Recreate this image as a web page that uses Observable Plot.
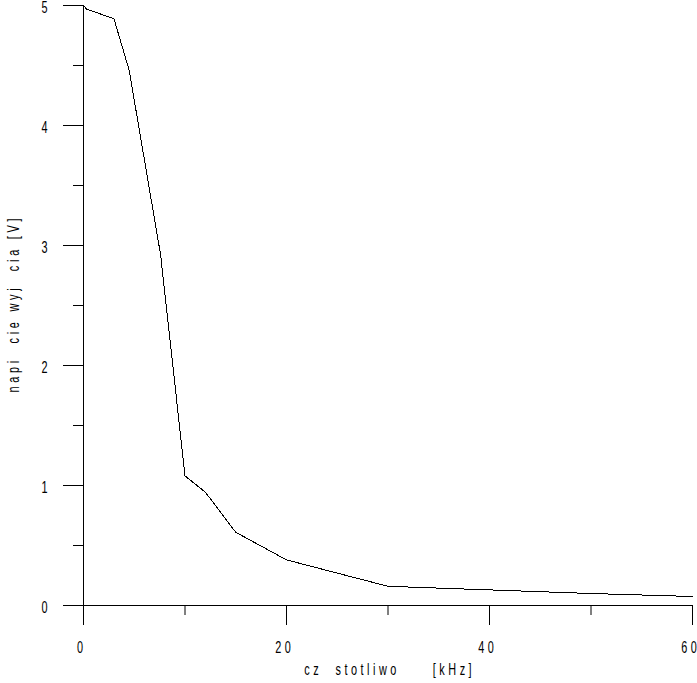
<!DOCTYPE html>
<html><head><meta charset="utf-8">
<script src="https://cdn.jsdelivr.net/npm/d3@7"></script>
<script src="https://cdn.jsdelivr.net/npm/@observablehq/plot@0.6"></script>
<style>html,body{margin:0;padding:0;background:#fff} svg{display:block}</style>
</head><body><div id="chart"></div>
<script>
// frequency [kHz] and output voltage [V]
const freq = [0, 0.3, 3, 4.5, 7.6, 10, 12, 15, 20, 30, 40, 50, 60];
const volt = [5.0, 4.97, 4.89, 4.46, 2.92, 1.08, 0.945, 0.61, 0.38, 0.16, 0.13, 0.10, 0.075];
const xMajorTicks = [0, 20, 40, 60];
const xMinorTicks = [10, 30, 50];
const yMajorTicks = [0, 1, 2, 3, 4, 5];
const yMinorTicks = [0.5, 1.5, 2.5, 3.5, 4.5];
const NB = "\u00A0";
const xTitle = "cz" + NB + NB + "stotliwo" + NB + NB + NB + NB + NB + "[kHz]";
const yTitle = "napi" + NB + NB + "cie" + NB + "wyj" + NB + NB + "cia" + NB + "[V]";

const data = freq.map((f, i) => ({f, v: volt[i]}));
const K = 0.68; // horizontal text compression (narrow font look)
const SVGNS = "http://www.w3.org/2000/svg";

const svg = Plot.plot({
  width: 697, height: 683,
  marginTop: 5, marginRight: 5, marginBottom: 78, marginLeft: 83,
  style: {fontFamily: "'Liberation Sans', Arial, sans-serif", fontSize: "16px", color: "#000", background: "#fff"},
  x: {domain: [0, 60]},
  y: {domain: [0, 5]},
  marks: [
    Plot.axisX(xMajorTicks, {tickSize: 20, tickPadding: 16, label: null, tickFormat: d => String(d)}),
    Plot.axisX(xMinorTicks, {tickSize: 10, label: null, tickFormat: () => ""}),
    Plot.axisY(yMajorTicks, {tickSize: 20, tickPadding: 16, label: null, tickFormat: d => String(d)}),
    Plot.axisY(yMinorTicks, {tickSize: 10, label: null, tickFormat: () => ""}),
    Plot.ruleX([0], {stroke: "#000"}),
    Plot.ruleY([0], {stroke: "#000"}),
    Plot.line(data, {x: "f", y: "v", stroke: "#000", strokeWidth: 1}),
    Plot.text([xTitle], {text: d => d, frameAnchor: "bottom", textAnchor: "middle", dy: 64, lineAnchor: "middle", fill: "#000"}),
    Plot.text([yTitle], {text: d => d, frameAnchor: "left", textAnchor: "middle", dx: -70, rotate: -90, lineAnchor: "middle", fill: "#000"})
  ]
});

// spaced-out text without trailing spacing after the last character
function spaceOut(t, ls) {
  const s = t.textContent;
  if (s.length < 2) return;
  t.textContent = "";
  const a = document.createElementNS(SVGNS, "tspan");
  a.textContent = s.slice(0, -1);
  a.style.letterSpacing = ls + "px";
  const b = document.createElementNS(SVGNS, "tspan");
  b.textContent = s.slice(-1);
  t.appendChild(a); t.appendChild(b);
}
svg.querySelectorAll('g[aria-label="x-axis tick label"] text').forEach(t => {
  spaceOut(t, 5);
  const tr = t.getAttribute("transform") || "";
  t.setAttribute("transform", tr + " translate(-3.5,0)");
});
svg.querySelectorAll('g[aria-label="text"] text').forEach(t =>
  spaceOut(t, t.textContent.startsWith("napi") ? 5.5 : 5.2));
svg.querySelectorAll('g[aria-label="y-axis tick label"] text').forEach(t => {
  const tr = t.getAttribute("transform") || "";
  t.setAttribute("transform", tr + " translate(0,2)");
});
// condensed glyphs
svg.querySelectorAll("text").forEach(t => {
  const tr = t.getAttribute("transform");
  if (tr) t.setAttribute("transform", tr + ` scale(${K},1)`);
  else {
    const x = +t.getAttribute("x") || 0;
    t.setAttribute("transform", `translate(${x},0) scale(${K},1) translate(${-x},0)`);
  }
});
svg.querySelectorAll('g[aria-label="line"] path').forEach(p => p.setAttribute("shape-rendering", "crispEdges"));
document.getElementById("chart").appendChild(svg);
</script>
</body></html>
